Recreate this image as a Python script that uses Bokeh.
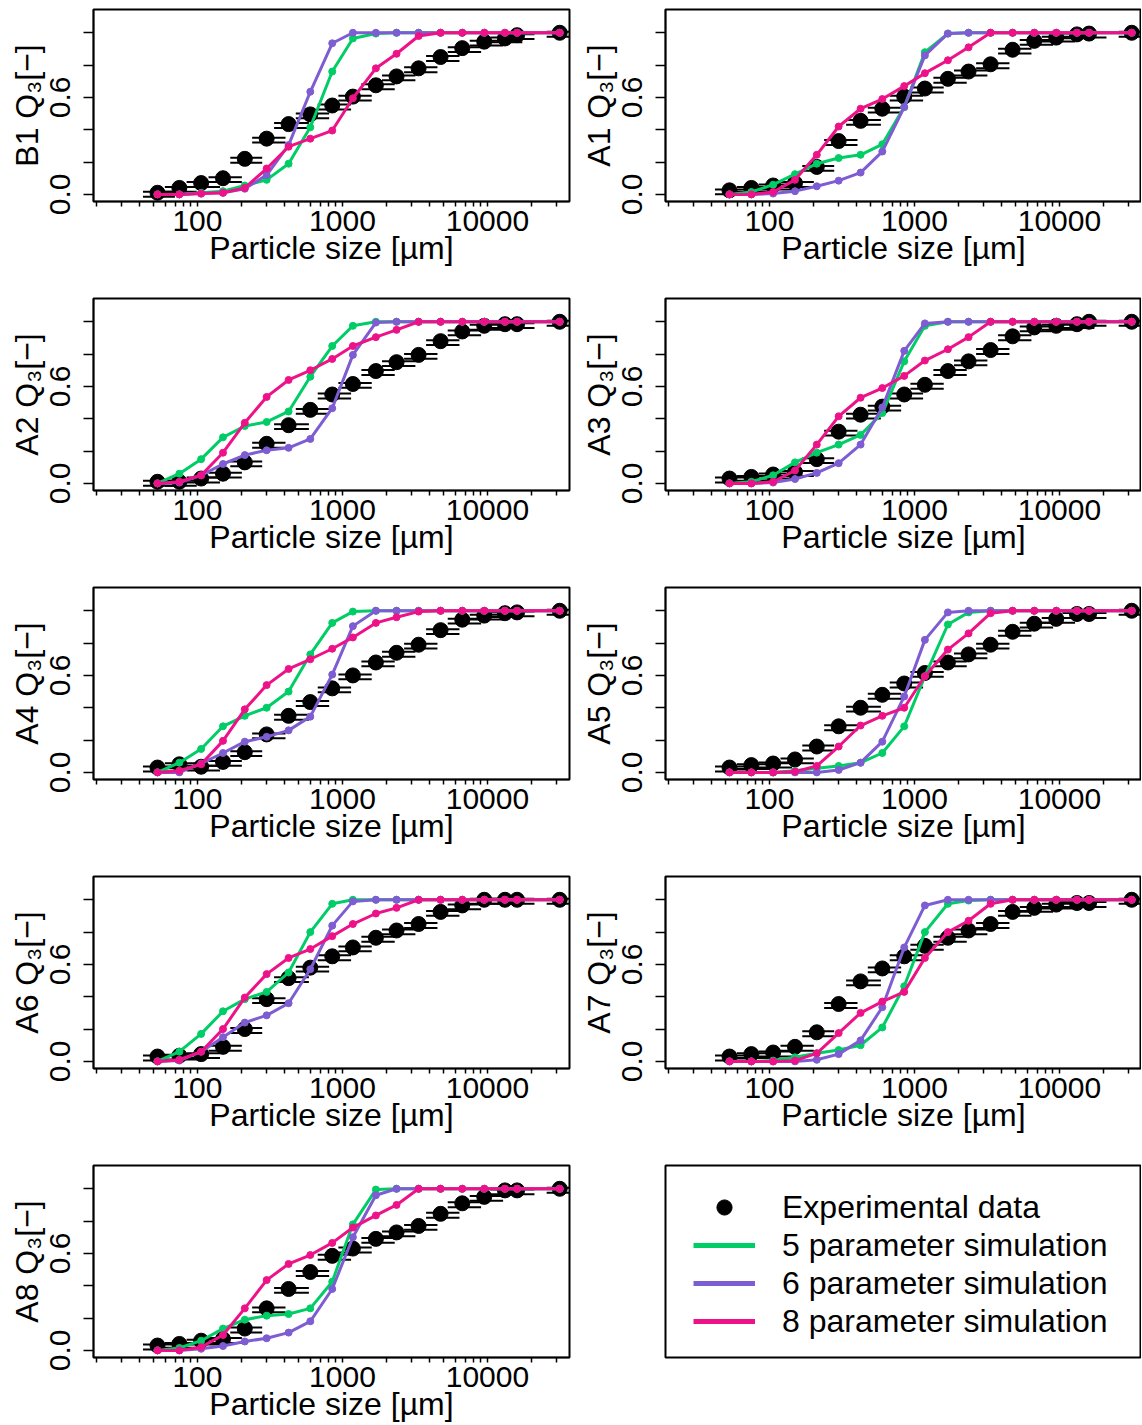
from bokeh.plotting import figure
from bokeh.layouts import column, row
from bokeh.models import (Range1d, FixedTicker, CustomJSTickFormatter, Legend,
                          LegendItem)
from bokeh.embed import file_html
from bokeh.resources import INLINE

# ---------------- data ----------------
SIZES = [53, 75, 106, 150, 212, 300, 425, 600, 850, 1180, 1700, 2360, 3350,
         4750, 6700, 9500, 13200, 16000, 31500]
# horizontal error bar extents (in decades, left / right of each sieve size)
ERR_LO_DEC = [0.10, 0.10, 0.10, 0.10, 0.10, 0.10, 0.10, 0.10, 0.10, 0.10,
              0.10, 0.10, 0.10, 0.10, 0.10, 0.10, 0.10, 0.10, 0.09]
ERR_HI_DEC = [0.12, 0.12, 0.13, 0.13, 0.12, 0.13, 0.14, 0.13, 0.13, 0.13,
              0.13, 0.13, 0.13, 0.13, 0.13, 0.13, 0.12, 0.12, 0.09]

X_TICKS = [100, 1000, 10000]
X_MINOR = [20, 30, 40, 50, 60, 70, 80, 90, 200, 300, 400, 500, 600, 700, 800,
           900, 2000, 3000, 4000, 5000, 6000, 7000, 8000, 9000, 20000, 30000]
Y_TICKS = [0.0, 0.2, 0.4, 0.6, 0.8, 1.0]

EXP_B1 = [0.01, 0.04, 0.07, 0.10, 0.22, 0.345, 0.435, 0.495, 0.55, 0.605, 0.675, 0.73, 0.78, 0.85, 0.905, 0.945, 0.965, 0.985, 1.0]
S5_B1 = [0, 0, 0.01, 0.02, 0.055, 0.09, 0.19, 0.415, 0.76, 0.965, 0.995, 1, 1, 1, 1, 1, 1, 1, 1]
S6_B1 = [0, 0, 0.005, 0.01, 0.035, 0.12, 0.305, 0.635, 0.935, 1.0, 1, 1, 1, 1, 1, 1, 1, 1, 1]
S8_B1 = [0, 0, 0.005, 0.01, 0.04, 0.16, 0.295, 0.345, 0.395, 0.595, 0.78, 0.87, 0.98, 1.0, 1, 1, 1, 1, 1]

EXP_A1 = [0.025, 0.04, 0.055, 0.07, 0.17, 0.33, 0.455, 0.53, 0.605, 0.655, 0.715, 0.76, 0.805, 0.895, 0.95, 0.97, 0.99, 0.995, 1.0]
S5_A1 = [0, 0.015, 0.06, 0.125, 0.19, 0.225, 0.245, 0.31, 0.54, 0.88, 0.995, 1, 1, 1, 1, 1, 1, 1, 1]
S6_A1 = [0, 0, 0.005, 0.02, 0.05, 0.085, 0.135, 0.265, 0.54, 0.86, 0.995, 1, 1, 1, 1, 1, 1, 1, 1]
S8_A1 = [0, 0, 0.015, 0.09, 0.245, 0.42, 0.53, 0.59, 0.67, 0.75, 0.83, 0.91, 1.0, 1, 1, 1, 1, 1, 1]

EXP_A2 = [0.01, 0.01, 0.03, 0.06, 0.13, 0.245, 0.36, 0.455, 0.55, 0.615, 0.695, 0.75, 0.795, 0.88, 0.94, 0.975, 0.985, 0.985, 1.0]
S5_A2 = [0, 0.06, 0.15, 0.285, 0.355, 0.38, 0.445, 0.66, 0.85, 0.975, 1.0, 1, 1, 1, 1, 1, 1, 1, 1]
S6_A2 = [0, 0.005, 0.05, 0.12, 0.175, 0.205, 0.22, 0.275, 0.465, 0.795, 0.995, 1, 1, 1, 1, 1, 1, 1, 1]
S8_A2 = [0, 0.01, 0.05, 0.19, 0.375, 0.535, 0.64, 0.70, 0.77, 0.85, 0.905, 0.95, 1.0, 1, 1, 1, 1, 1, 1]

EXP_A3 = [0.03, 0.04, 0.055, 0.07, 0.15, 0.32, 0.425, 0.475, 0.55, 0.61, 0.695, 0.755, 0.825, 0.91, 0.965, 0.975, 0.985, 1.0, 1.0]
S5_A3 = [0, 0.01, 0.05, 0.13, 0.19, 0.24, 0.30, 0.435, 0.755, 0.975, 1, 1, 1, 1, 1, 1, 1, 1, 1]
S6_A3 = [0, 0, 0.005, 0.027, 0.065, 0.125, 0.24, 0.47, 0.82, 0.99, 1, 1, 1, 1, 1, 1, 1, 1, 1]
S8_A3 = [0, 0, 0.01, 0.08, 0.24, 0.415, 0.53, 0.59, 0.665, 0.76, 0.83, 0.905, 1.0, 1, 1, 1, 1, 1, 1]

EXP_A4 = [0.03, 0.05, 0.035, 0.065, 0.125, 0.235, 0.35, 0.435, 0.52, 0.60, 0.68, 0.74, 0.79, 0.88, 0.945, 0.97, 0.985, 0.99, 1.0]
S5_A4 = [0, 0.06, 0.145, 0.285, 0.35, 0.40, 0.50, 0.73, 0.925, 0.995, 1, 1, 1, 1, 1, 1, 1, 1, 1]
S6_A4 = [0, 0.0, 0.055, 0.12, 0.19, 0.22, 0.26, 0.345, 0.605, 0.905, 1.0, 1, 1, 1, 1, 1, 1, 1, 1]
S8_A4 = [0, 0.01, 0.05, 0.195, 0.39, 0.54, 0.64, 0.70, 0.765, 0.835, 0.925, 0.96, 0.995, 1, 1, 1, 1, 1, 1]

EXP_A5 = [0.03, 0.045, 0.055, 0.08, 0.16, 0.285, 0.40, 0.48, 0.55, 0.615, 0.68, 0.73, 0.79, 0.87, 0.92, 0.95, 0.98, 0.98, 1.0]
S5_A5 = [0, 0, 0, 0.01, 0.025, 0.04, 0.06, 0.12, 0.285, 0.595, 0.915, 0.99, 1, 1, 1, 1, 1, 1, 1]
S6_A5 = [0, 0, 0, 0, 0, 0.015, 0.06, 0.19, 0.47, 0.82, 0.99, 1, 1, 1, 1, 1, 1, 1, 1]
S8_A5 = [0, 0, 0, 0.005, 0.04, 0.16, 0.29, 0.35, 0.40, 0.595, 0.76, 0.86, 0.985, 1, 1, 1, 1, 1, 1]

EXP_A6 = [0.03, 0.035, 0.045, 0.09, 0.20, 0.385, 0.515, 0.58, 0.65, 0.705, 0.765, 0.81, 0.85, 0.925, 0.965, 1.0, 1.0, 1.0, 1.0]
S5_A6 = [0, 0.06, 0.17, 0.31, 0.385, 0.43, 0.55, 0.80, 0.975, 1.0, 1, 1, 1, 1, 1, 1, 1, 1, 1]
S6_A6 = [0, 0.005, 0.06, 0.15, 0.24, 0.285, 0.36, 0.57, 0.84, 0.99, 1, 1, 1, 1, 1, 1, 1, 1, 1]
S8_A6 = [0, 0.01, 0.06, 0.20, 0.395, 0.54, 0.64, 0.695, 0.775, 0.85, 0.915, 0.95, 1.0, 1, 1, 1, 1, 1, 1]

EXP_A7 = [0.03, 0.045, 0.055, 0.09, 0.18, 0.355, 0.495, 0.575, 0.65, 0.715, 0.765, 0.81, 0.85, 0.925, 0.95, 0.97, 0.98, 0.98, 1.0]
S5_A7 = [0, 0, 0.005, 0.025, 0.05, 0.07, 0.10, 0.21, 0.465, 0.80, 0.975, 0.995, 1, 1, 1, 1, 1, 1, 1]
S6_A7 = [0, 0, 0, 0, 0.01, 0.045, 0.13, 0.335, 0.705, 0.965, 1.0, 1, 1, 1, 1, 1, 1, 1, 1]
S8_A7 = [0, 0, 0, 0.005, 0.05, 0.175, 0.30, 0.37, 0.43, 0.64, 0.80, 0.87, 0.975, 1.0, 1, 1, 1, 1, 1]

EXP_A8 = [0.03, 0.04, 0.06, 0.07, 0.135, 0.26, 0.38, 0.485, 0.585, 0.63, 0.69, 0.73, 0.77, 0.845, 0.91, 0.95, 0.99, 0.99, 1.0]
S5_A8 = [0, 0.015, 0.06, 0.135, 0.19, 0.215, 0.225, 0.26, 0.425, 0.78, 0.995, 1.0, 1, 1, 1, 1, 1, 1, 1]
S6_A8 = [0, 0, 0.01, 0.027, 0.055, 0.075, 0.11, 0.18, 0.38, 0.70, 0.96, 1.0, 1, 1, 1, 1, 1, 1, 1]
S8_A8 = [0, 0, 0.02, 0.095, 0.26, 0.435, 0.535, 0.59, 0.665, 0.76, 0.835, 0.90, 1.0, 1, 1, 1, 1, 1, 1]

PANELS = {
    "B1": (EXP_B1, S5_B1, S6_B1, S8_B1),
    "A1": (EXP_A1, S5_A1, S6_A1, S8_A1),
    "A2": (EXP_A2, S5_A2, S6_A2, S8_A2),
    "A3": (EXP_A3, S5_A3, S6_A3, S8_A3),
    "A4": (EXP_A4, S5_A4, S6_A4, S8_A4),
    "A5": (EXP_A5, S5_A5, S6_A5, S8_A5),
    "A6": (EXP_A6, S5_A6, S6_A6, S8_A6),
    "A7": (EXP_A7, S5_A7, S6_A7, S8_A7),
    "A8": (EXP_A8, S5_A8, S6_A8, S8_A8),
}
LEGEND_LABELS = ["Experimental data", "5 parameter simulation",
                 "6 parameter simulation", "8 parameter simulation"]

# ---------------- style ----------------
FONT = "Liberation Sans"
GREEN = "#00CD66"
PURPLE = "#7E5CD2"
PINK = "#EE1289"

LOG_START = 1.283
PX_PER_DEC = 145.0
FRAME_W = 476
FRAME_H = 193
BORDER_L_L = 93
BORDER_L_R = 94
BORDER_R_L = 2
BORDER_B = 66
PITCH = 289
FIRST_TOP = 9


def style_frame(p):
    p.background_fill_color = "white"
    p.border_fill_color = "white"
    p.outline_line_color = "black"
    p.outline_line_width = 2
    p.grid.visible = False


def make_panel(name, right, first):
    exp, s5, s6, s8 = PANELS[name]
    top = FIRST_TOP if first else PITCH - FRAME_H - BORDER_B
    border_l = BORDER_L_R if right else BORDER_L_L
    border_r = 0 if right else BORDER_R_L
    x_start = 10 ** LOG_START
    x_end = 10 ** (LOG_START + FRAME_W / PX_PER_DEC)
    p = figure(width=border_l + FRAME_W + border_r, height=top + FRAME_H + BORDER_B,
               x_axis_type="log",
               x_range=Range1d(x_start, x_end), y_range=Range1d(-0.044, 1.144),
               output_backend="svg", toolbar_location=None,
               min_border_left=border_l, min_border_right=border_r,
               min_border_top=top, min_border_bottom=BORDER_B)
    style_frame(p)

    # axes
    xa = p.xaxis[0]
    xa.ticker = FixedTicker(ticks=X_TICKS, minor_ticks=X_MINOR)
    xa.formatter = CustomJSTickFormatter(code="return Math.round(tick).toString();")
    xa.axis_label = "Particle size [µm]"
    ya = p.yaxis[0]
    ya.ticker = FixedTicker(ticks=Y_TICKS)
    ya.formatter = CustomJSTickFormatter(code=(
        "if (Math.abs(tick) < 1e-6) return '0.0';"
        "if (Math.abs(tick - 0.6) < 1e-6) return '0.6';"
        "return '';"))
    ya.axis_label = name + " Q\u2083[\u2212]"
    ya.major_label_orientation = "vertical"
    for ax in (xa, ya):
        ax.axis_line_color = "black"
        ax.axis_line_width = 1.5
        ax.major_tick_line_color = "black"
        ax.major_tick_line_width = 1.5
        ax.minor_tick_line_color = "black"
        ax.minor_tick_line_width = 1.5
        ax.major_label_text_font = FONT
        ax.major_label_text_font_size = "30px"
        ax.major_label_text_color = "black"
        ax.axis_label_text_font = FONT
        ax.axis_label_text_font_size = "32px"
        ax.axis_label_text_font_style = "normal"
        ax.axis_label_text_color = "black"
        ax.major_tick_in = 0
        ax.minor_tick_in = 0
    xa.major_tick_out = 5
    xa.minor_tick_out = 5
    xa.major_label_standoff = 4
    xa.axis_label_standoff = -4
    ya.major_tick_out = 10
    ya.minor_tick_out = 0
    ya.major_label_standoff = 13
    ya.axis_label_standoff = 3

    # experimental data with horizontal error bars
    lo = [s / 10 ** d for s, d in zip(SIZES, ERR_LO_DEC)]
    hi = [s * 10 ** d for s, d in zip(SIZES, ERR_HI_DEC)]
    y_up = [v + 0.006 for v in exp]
    y_dn = [v - 0.024 for v in exp]
    p.segment(x0=lo, y0=y_up, x1=hi, y1=y_up, line_color="black", line_width=2)
    p.segment(x0=lo, y0=y_dn, x1=hi, y1=y_dn, line_color="black", line_width=2)
    p.scatter(SIZES, exp, size=15, color="black")

    for vals, col in ((s5, GREEN), (s6, PURPLE), (s8, PINK)):
        p.line(SIZES, vals, line_color=col, line_width=3)
        p.scatter(SIZES, vals, size=7, color=col)
    return p


def make_legend():
    top = PITCH - FRAME_H - BORDER_B
    p = figure(width=BORDER_L_R + FRAME_W, height=top + FRAME_H + BORDER_B,
               x_range=Range1d(0, 1), y_range=Range1d(0, 1),
               x_axis_location=None, y_axis_location=None,
               output_backend="svg", toolbar_location=None,
               min_border_left=BORDER_L_R, min_border_right=0,
               min_border_top=top, min_border_bottom=BORDER_B)
    style_frame(p)
    # proxy renderers for the legend only (placed outside the visible range)
    r_exp = p.scatter(x=[0.5], y=[-5], size=15, color="black")
    r5 = p.line(x=[0.4, 0.6], y=[-5, -5], line_color=GREEN, line_width=5)
    r6 = p.line(x=[0.4, 0.6], y=[-5, -5], line_color=PURPLE, line_width=5)
    r8 = p.line(x=[0.4, 0.6], y=[-5, -5], line_color=PINK, line_width=5)
    items = [LegendItem(label=lab, renderers=[r])
             for lab, r in zip(LEGEND_LABELS, (r_exp, r5, r6, r8))]
    leg = Legend(items=items, location=(28, 17), margin=0, padding=0,
                 border_line_color=None, background_fill_alpha=0,
                 glyph_width=62, glyph_height=38, label_height=38,
                 label_standoff=27, spacing=0,
                 label_text_font=FONT, label_text_font_size="32px",
                 label_text_color="black")
    p.add_layout(leg)
    return p


layout = column(
    row(make_panel("B1", False, True), make_panel("A1", True, True)),
    row(make_panel("A2", False, False), make_panel("A3", True, False)),
    row(make_panel("A4", False, False), make_panel("A5", True, False)),
    row(make_panel("A6", False, False), make_panel("A7", True, False)),
    row(make_panel("A8", False, False), make_legend()),
)

open("out.html", "w").write(file_html(layout, INLINE))
